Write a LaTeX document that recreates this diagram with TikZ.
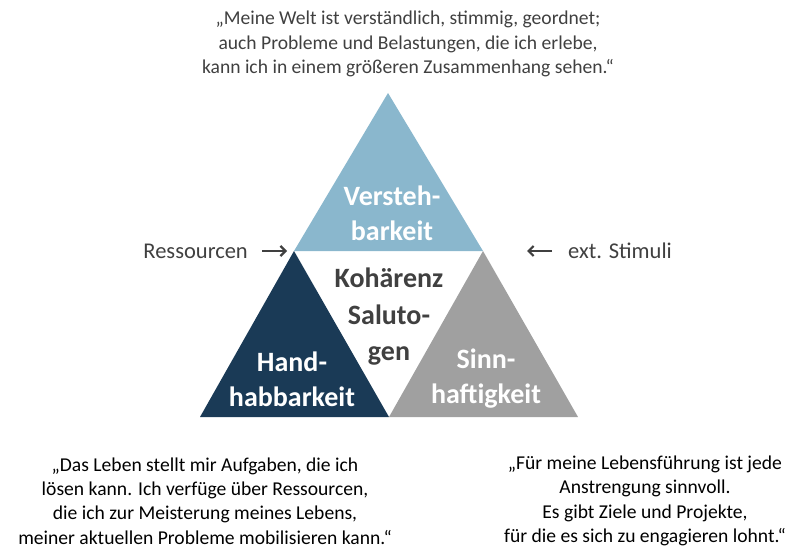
\documentclass[tikz,border=0pt]{standalone}
\usepackage{fontspec}
\setmainfont{Carlito}
\usetikzlibrary{arrows.meta}

\definecolor{blau}{HTML}{8AB7CD}
\definecolor{navy}{HTML}{1A3A56}
\definecolor{grau}{HTML}{A0A0A0}
\definecolor{dunkel}{HTML}{404040}

\begin{document}
\begin{tikzpicture}[x=1pt, y=-1pt, q/.style={align=center, inner sep=0pt, font=\fontsize{19.6}{24.3}\selectfont}, l/.style={align=center, inner sep=0pt, text=white, font=\bfseries\fontsize{28}{35}\selectfont}, p/.style={->, >={Straight Barb[length=5pt, width=10pt]}, line width=2.2pt, dunkel}]
		\useasboundingbox (0,0) rectangle (800,556);

		\coordinate (T) at (388,93);
		\coordinate (L) at (294,251);
		\coordinate (R) at (483,251);
		\coordinate (BL) at (200,417);
		\coordinate (BM) at (389,417);
		\coordinate (BR) at (578,417);

		\fill[blau] (T) -- (R) -- (L) -- cycle;
		\fill[navy] (L) -- (BM) -- (BL) -- cycle;
		\fill[grau] (R) -- (BR) -- (BM) -- cycle;

		\node[l] (V) at (392,213) {Versteh-\\barkeit};
		\node[l] (H) at (292,379) {Hand-\\habbarkeit};
		\node[l] (S) at (486,379) {Sinn-\\haftigkeit};
		\node[l, text=dunkel, font=\bfseries\fontsize{28}{36.5}\selectfont] (K) at (389,317) {Kohärenz\\Saluto-\\gen};

		\node[q, text=dunkel] (top) at (408,44) {„Meine Welt ist verständlich, stimmig, geordnet;\\auch Probleme und Belastungen, die ich erlebe,\\kann ich in einem größeren Zusammenhang sehen.“};
		\node[q] (left) at (205,501) {„Das Leben stellt mir Aufgaben, die ich\\lösen kann. Ich verfüge über Ressourcen,\\die ich zur Meisterung meines Lebens,\\meiner aktuellen Probleme mobilisieren kann.“};
		\node[q] (right) at (645,501) {„Für meine Lebensführung ist jede\\Anstrengung sinnvoll.\\Es gibt Ziele und Projekte,\\für die es sich zu engagieren lohnt.“};

		\node[q, text=dunkel, font=\fontsize{22.5}{27}\selectfont, anchor=east] (res) at (248,251) {Ressourcen};
		\node[q, text=dunkel, font=\fontsize{22.5}{27}\selectfont, anchor=west] (ext) at (568,251) {ext. Stimuli};
		\coordinate (resTip) at (287,251);
		\coordinate (extTip) at (527,251);

		\draw[p] ([xshift=14pt]res.east) -- (resTip);
		\draw[p] ([xshift=-16pt]ext.west) -- (extTip);
	\end{tikzpicture}
\end{document}
